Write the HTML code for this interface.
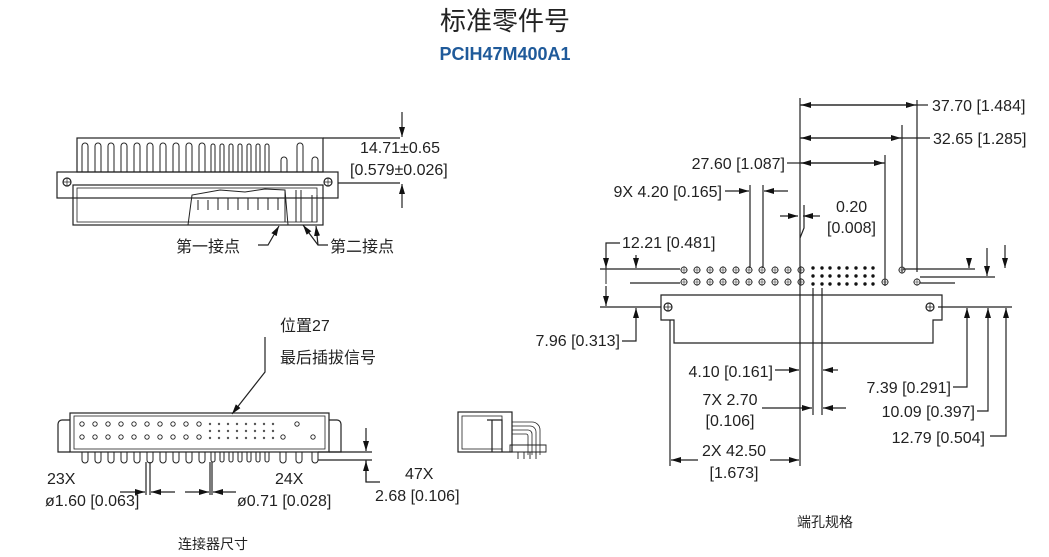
<!DOCTYPE html>
<html><head><meta charset="utf-8"><style>
html,body{margin:0;padding:0;background:#fff;}
svg{display:block;}
text{font-family:"Liberation Sans","Noto Sans CJK SC",sans-serif;fill:#222;}
.c{font-family:"Noto Serif CJK SC","Liberation Serif",serif;}
</style></head><body>
<svg width="1049" height="557" viewBox="0 0 1049 557" xmlns="http://www.w3.org/2000/svg">
<defs>
<marker id="a" viewBox="0 0 10 6" refX="10" refY="3" markerWidth="10" markerHeight="6" orient="auto" markerUnits="userSpaceOnUse"><path d="M0,0 L10,3 L0,6z" fill="#111"/></marker>
</defs>
<text x="505" y="30" font-size="26" text-anchor="middle" style="font-family:'Noto Sans CJK SC',sans-serif">标准零件号</text>
<text x="505" y="60" font-size="18" font-weight="bold" text-anchor="middle" style="fill:#1f5a9a">PCIH47M400A1</text>

<g stroke="#222" fill="none" stroke-width="1.2">
<rect x="77" y="138" width="246" height="34"/>
<rect x="57" y="172" width="281" height="26"/>
<rect x="73" y="185" width="250" height="40"/>
<rect x="77" y="188" width="240" height="34" stroke-width="0.8"/>
<circle cx="67" cy="182" r="4"/><circle cx="328" cy="182" r="4"/>
<path d="M63,182H71 M67,178V186 M324,182H332 M328,178V186" stroke-width="0.7"/>
<g stroke-width="1">
<path d="M82,172V146a3,3 0 0 1 6,0V172 M95,172V146a3,3 0 0 1 6,0V172 M108,172V146a3,3 0 0 1 6,0V172 M121,172V146a3,3 0 0 1 6,0V172 M134,172V146a3,3 0 0 1 6,0V172 M147,172V146a3,3 0 0 1 6,0V172 M160,172V146a3,3 0 0 1 6,0V172 M173,172V146a3,3 0 0 1 6,0V172 M186,172V146a3,3 0 0 1 6,0V172 M199,172V146a3,3 0 0 1 6,0V172"/>
<path d="M211,172V146a2,2 0 0 1 4,0V172 M220,172V146a2,2 0 0 1 4,0V172 M229,172V146a2,2 0 0 1 4,0V172 M238,172V146a2,2 0 0 1 4,0V172 M247,172V146a2,2 0 0 1 4,0V172 M256,172V146a2,2 0 0 1 4,0V172 M265,172V146a2,2 0 0 1 4,0V172"/>
<path d="M281,172V160a3,3 0 0 1 6,0V172 M297,172V146a3,3 0 0 1 6,0V172 M312,172V160a3,3 0 0 1 6,0V172"/>
<path d="M188,225 L192,195 L220,190 L245,192 L265,189 L285,190 L288,225"/>
<path d="M198,200V210 M208,200V210 M218,198V210 M228,198V210 M238,198V210 M248,198V210 M258,198V210 M268,198V210 M278,198V210"/>
<path d="M285,190V222 M296,190V222 M301,190V222 M312,195V222 M317,195V222"/>
</g>
<path d="M323,138H400 M338,183H400"/>
<path d="M402,112V137" marker-end="url(#a)"/><path d="M402,208V184" marker-end="url(#a)"/>
<path d="M258,245H268 L279,226" marker-end="url(#a)"/>
<path d="M328,245H318 L303,225" marker-end="url(#a)"/><path d="M318,245L316,226" marker-end="url(#a)"/>

<rect x="70" y="413" width="259" height="39"/>
<rect x="74" y="416" width="251" height="33" stroke-width="0.8"/>
<path d="M70,420H62a4,4 0 0 0 -4,4V452H70 M329,420H337a4,4 0 0 1 4,4V452H329"/>
<path d="M265,337V372 L232,414" marker-end="url(#a)"/>
<g stroke-width="0.9">
<circle cx="82" cy="424" r="2.2"/><circle cx="95" cy="424" r="2.2"/><circle cx="108" cy="424" r="2.2"/><circle cx="121" cy="424" r="2.2"/><circle cx="134" cy="424" r="2.2"/><circle cx="147" cy="424" r="2.2"/><circle cx="160" cy="424" r="2.2"/><circle cx="173" cy="424" r="2.2"/><circle cx="186" cy="424" r="2.2"/><circle cx="199" cy="424" r="2.2"/><circle cx="297" cy="424" r="2.2"/>
<circle cx="82" cy="437" r="2.2"/><circle cx="95" cy="437" r="2.2"/><circle cx="108" cy="437" r="2.2"/><circle cx="121" cy="437" r="2.2"/><circle cx="134" cy="437" r="2.2"/><circle cx="147" cy="437" r="2.2"/><circle cx="160" cy="437" r="2.2"/><circle cx="173" cy="437" r="2.2"/><circle cx="186" cy="437" r="2.2"/><circle cx="199" cy="437" r="2.2"/><circle cx="283" cy="437" r="2.2"/><circle cx="313" cy="437" r="2.2"/>
</g>
<path d="M82,452v8a3,3 0 0 0 6,0v-8 M95,452v8a3,3 0 0 0 6,0v-8 M108,452v8a3,3 0 0 0 6,0v-8 M121,452v8a3,3 0 0 0 6,0v-8 M134,452v8a3,3 0 0 0 6,0v-8 M147,452v8a3,3 0 0 0 6,0v-8 M160,452v8a3,3 0 0 0 6,0v-8 M173,452v8a3,3 0 0 0 6,0v-8 M186,452v8a3,3 0 0 0 6,0v-8 M199,452v8a3,3 0 0 0 6,0v-8 M211,452v8a2,2 0 0 0 4,0v-8 M220,452v8a2,2 0 0 0 4,0v-8 M229,452v8a2,2 0 0 0 4,0v-8 M238,452v8a2,2 0 0 0 4,0v-8 M247,452v8a2,2 0 0 0 4,0v-8 M256,452v8a2,2 0 0 0 4,0v-8 M265,452v8a2,2 0 0 0 4,0v-8 M280,452v8a3,3 0 0 0 6,0v-8 M296,452v8a3,3 0 0 0 6,0v-8 M312,452v8a3,3 0 0 0 6,0v-8" stroke-width="1"/>
<path d="M146,462V495 M150,462V495 M210,462V495 M212,462V495"/>
<path d="M120,492H145" marker-end="url(#a)"/><path d="M175,492H151" marker-end="url(#a)"/>
<path d="M185,492H209" marker-end="url(#a)"/><path d="M236,492H213" marker-end="url(#a)"/>
<path d="M318,452H372 M318,460H372 M366,460V482H380"/>
<path d="M366,428V451" marker-end="url(#a)"/><path d="M366,482V461" marker-end="url(#a)"/>
<rect x="458" y="412" width="54" height="40"/>
<rect x="462" y="416" width="40" height="33" stroke-width="0.8"/>
<path d="M487,420H502V452 M492,420V452"/>
<path d="M512,422H532a8,8 0 0 1 8,8V455 M512,426H530a6,6 0 0 1 6,6V455 M512,430H528a4,4 0 0 1 4,4V455 M512,434H526a2,2 0 0 1 2,2V455" stroke-width="0.8"/>
<path d="M510,445H546V452H510z" stroke-width="0.9"/>
<path d="M518,452v7 M524,452v7 M530,452v7 M536,452v7" stroke-width="0.9"/>

<path d="M661,295H942V320H933V343H674V320H661Z"/>
<circle cx="668" cy="307" r="4"/><circle cx="930" cy="307" r="4"/>
<path d="M664,307H672 M668,303V311 M926,307H934 M930,303V311" stroke-width="0.8"/>
<path d="M670,320V466 M800,98V466 M813,288V415 M822,288V415"/>
<path d="M917,100V272 M902,125V272 M885,155V286 M750,185V268 M763,185V268"/>
<path d="M800,105H916" marker-end="url(#a)"/><path d="M917,105H801" marker-end="url(#a)"/><path d="M917,105H928"/>
<path d="M800,138H901" marker-end="url(#a)"/><path d="M902,138H801" marker-end="url(#a)"/><path d="M902,138H930"/>
<path d="M800,163H884" marker-end="url(#a)"/><path d="M885,163H801" marker-end="url(#a)"/><path d="M787,163H800"/>
<path d="M725,191H749" marker-end="url(#a)"/><path d="M788,191H764" marker-end="url(#a)"/>
<path d="M780,216H798" marker-end="url(#a)"/><path d="M820,216H803" marker-end="url(#a)"/><path d="M804,205V228 L800,238"/>
<path d="M620,243H606V268" marker-end="url(#a)"/><path d="M606,286V306" marker-end="url(#a)"/><path d="M606,268V284" stroke-width="1"/>
<path d="M600,269H680 M630,283H680 M600,307H661"/>
<path d="M636,255V268" marker-end="url(#a)"/>
<path d="M622,341H636V308" marker-end="url(#a)"/>
<path d="M903,269H975 M920,277H995 M920,283H955 M938,307H1012"/>
<path d="M1005,245V268" marker-end="url(#a)"/><path d="M987,248V276" marker-end="url(#a)"/><path d="M969,258V268" marker-end="url(#a)"/>
<path d="M953,387H967V308" marker-end="url(#a)"/>
<path d="M977,411H988V308" marker-end="url(#a)"/>
<path d="M990,436H1006V308" marker-end="url(#a)"/>
<path d="M775,370H799" marker-end="url(#a)"/><path d="M838,370H823" marker-end="url(#a)"/>
<path d="M762,408H812" marker-end="url(#a)"/><path d="M846,408H823" marker-end="url(#a)"/>
<path d="M698,460H671" marker-end="url(#a)"/><path d="M770,460H799" marker-end="url(#a)"/>
</g>
<g stroke="#333" fill="none" stroke-width="0.9">
<g id="h"><g id="h1"><circle cx="684" cy="270" r="3"/><path d="M680,270H688 M684,266V274" stroke-width="0.6"/></g>
<use href="#h1" x="13"/><use href="#h1" x="26"/><use href="#h1" x="39"/><use href="#h1" x="52"/><use href="#h1" x="65"/><use href="#h1" x="78"/><use href="#h1" x="91"/><use href="#h1" x="104"/><use href="#h1" x="117"/></g>
<use href="#h" y="12"/>
<use href="#h1" x="218"/><use href="#h1" x="201" y="12"/><use href="#h1" x="233" y="12"/>
</g>
<g fill="#111">
<g id="d"><circle cx="813" cy="268" r="1.7"/><circle cx="822" cy="268" r="1.7"/><circle cx="830" cy="268" r="1.7"/><circle cx="839" cy="268" r="1.7"/><circle cx="847" cy="268" r="1.7"/><circle cx="856" cy="268" r="1.7"/><circle cx="865" cy="268" r="1.7"/><circle cx="873" cy="268" r="1.7"/></g>
<use href="#d" y="8"/><use href="#d" y="16"/>
</g>
<g fill="#555">
<g id="bd"><circle cx="210" cy="424" r="1.2"/><circle cx="219" cy="424" r="1.2"/><circle cx="228" cy="424" r="1.2"/><circle cx="237" cy="424" r="1.2"/><circle cx="246" cy="424" r="1.2"/><circle cx="255" cy="424" r="1.2"/><circle cx="264" cy="424" r="1.2"/><circle cx="273" cy="424" r="1.2"/></g>
<use href="#bd" y="7"/><use href="#bd" y="14"/>
</g>

<g font-size="16">
<text x="360" y="153">14.71±0.65</text>
<text x="350" y="175">[0.579±0.026]</text>
<text x="47" y="484">23X</text>
<text x="45" y="506">ø1.60 [0.063]</text>
<text x="275" y="484">24X</text>
<text x="237" y="506">ø0.71 [0.028]</text>
<text x="405" y="479">47X</text>
<text x="375" y="501">2.68 [0.106]</text>
<text x="932" y="111">37.70 [1.484]</text>
<text x="933" y="144">32.65 [1.285]</text>
<text x="785" y="169" text-anchor="end">27.60 [1.087]</text>
<text x="722" y="197" text-anchor="end">9X 4.20 [0.165]</text>
<text x="836" y="212">0.20</text>
<text x="827" y="233">[0.008]</text>
<text x="622" y="248">12.21 [0.481]</text>
<text x="620" y="346" text-anchor="end">7.96 [0.313]</text>
<text x="773" y="377" text-anchor="end">4.10 [0.161]</text>
<text x="730" y="405" text-anchor="middle">7X 2.70</text>
<text x="730" y="426" text-anchor="middle">[0.106]</text>
<text x="734" y="456" text-anchor="middle">2X 42.50</text>
<text x="734" y="478" text-anchor="middle">[1.673]</text>
<text x="951" y="393" text-anchor="end">7.39 [0.291]</text>
<text x="975" y="417" text-anchor="end">10.09 [0.397]</text>
<text x="985" y="443" text-anchor="end">12.79 [0.504]</text>
</g>
<g font-size="16" class="c">
<text x="176" y="252">第一接点</text>
<text x="330" y="252">第二接点</text>
<text x="280" y="331">位置27</text>
<text x="280" y="363">最后插拔信号</text>
<text x="797" y="527" font-size="14">端孔规格</text>
<text x="178" y="549" font-size="14">连接器尺寸</text>
</g>
</svg>
</body></html>
